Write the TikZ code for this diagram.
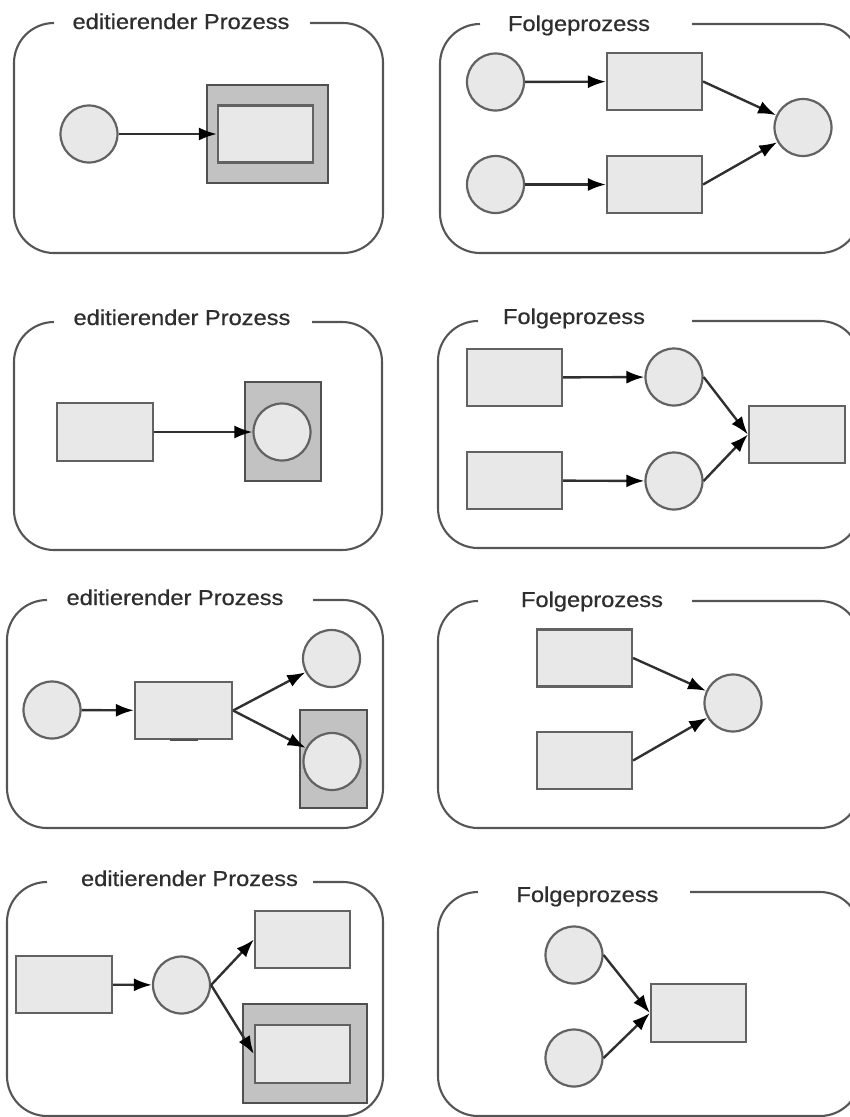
\documentclass[tikz,border=0pt]{standalone}
\usepackage{fontspec}
\setmainfont{Liberation Sans}
\newfontfamily\titlefont[FakeStretch=1.1,FakeBold=0.6]{Liberation Sans}
\usetikzlibrary{arrows.meta}
\definecolor{framecol}{HTML}{555555}
\definecolor{titlecol}{HTML}{2E2E2E}
\definecolor{shapecol}{HTML}{626262}
\definecolor{shapefill}{HTML}{E8E8E8}
\definecolor{hlborder}{HTML}{505050}
\definecolor{hlfill}{HTML}{C2C2C2}
\definecolor{arrowcol}{HTML}{303030}
\begin{document}
\begin{tikzpicture}[x=1pt,y=-1pt,
  frame/.style={draw=framecol, line width=2.1pt, rounded corners=40pt},
  title/.style={anchor=base, font=\titlefont\fontsize{21.5}{26}\selectfont, text=titlecol, inner sep=0pt},
  place/.style={circle, draw=shapecol, fill=shapefill, line width=2.2pt, minimum size=57pt, inner sep=0pt},
  trans/.style={rectangle, draw=shapecol, fill=shapefill, line width=2.2pt, minimum width=95pt, minimum height=57pt, inner sep=0pt},
  hl/.style={rectangle, draw=hlborder, fill=hlfill, line width=2.2pt, inner sep=0pt},
  arr/.style={draw=arrowcol, line width=2.4pt, -{Latex[length=18pt,width=13pt,color=black]}}
]
\useasboundingbox (0,0) rectangle (850,1117);

% ---------- Panel 1 ----------
\draw[frame] (310,23) -- (383,23) -- (383,253) -- (14,253) -- (14,23) -- (54,23);
\node[title] (t1) at (181,29) {editierender Prozess};
\node[place] (p1a) at (89,134) {};
\node[hl, minimum width=121pt, minimum height=98pt] (p1h) at (267.5,134) {};
\node[trans] (p1b) at (265.5,134) {};
\draw[arr] (p1a) -- (p1b);

% ---------- Panel 2 ----------
\draw[frame] (692,24) -- (860,24) -- (860,253) -- (440,253) -- (440,24) -- (480,24);
\node[title] (t2) at (579,31) {Folgeprozess};
\node[place] (p2a) at (495.5,82) {};
\node[place] (p2b) at (495.5,184.5) {};
\node[trans] (p2c) at (654.5,81.5) {};
\node[trans] (p2d) at (654.5,184.5) {};
\node[place] (p2e) at (803,127.5) {};
\draw[arr] (p2a) -- (p2c);
\draw[arr] (p2b) -- (p2d);
\draw[arr] (p2c.east) -- (p2e);
\draw[arr] (p2d.east) -- (p2e);

% ---------- Panel 3 ----------
\draw[frame] (312,322) -- (382,322) -- (382,550) -- (14,550) -- (14,322) -- (54,322);
\node[title] (t3) at (182,325) {editierender Prozess};
\node[trans, minimum width=96pt, minimum height=58pt] (p3a) at (105,432) {};
\node[hl, minimum width=76pt, minimum height=99pt] (p3h) at (283,431.5) {};
\node[place] (p3b) at (282,432) {};
\draw[arr] (p3a) -- (p3b);

% ---------- Panel 4 ----------
\draw[frame] (692,321) -- (860,321) -- (860,548) -- (438,548) -- (438,321) -- (478,321);
\node[title] (t4) at (574,324) {Folgeprozess};
\node[trans] (p4a) at (514.5,377.5) {};
\node[trans] (p4b) at (514.5,480.5) {};
\node[place] (p4c) at (674,377) {};
\node[place] (p4d) at (674,481) {};
\node[trans, minimum width=96pt] (p4e) at (797,434.5) {};
\draw[arr] (p4a) -- (p4c);
\draw[arr] (p4b) -- (p4d);
\draw[arr] (p4c.east) -- (p4e.west);
\draw[arr] (p4d.east) -- (p4e.west);

% ---------- Panel 5 ----------
\draw[frame] (313,600) -- (383,600) -- (383,828) -- (7,828) -- (7,600) -- (47,600);
\node[title] (t5) at (175,605) {editierender Prozess};
\node[place] (p5a) at (52,710) {};
\node[trans, minimum width=97pt] (p5b) at (183.5,710.5) {};
\draw[hlborder, line width=2.5pt] ([xshift=-14pt]p5b.south) -- ([xshift=14pt]p5b.south);
\node[place] (p5c) at (331.5,658.5) {};
\node[hl, minimum width=67pt, minimum height=98pt] (p5h) at (333.5,759) {};
\node[place] (p5d) at (332,761.5) {};
\draw[arr] (p5a) -- (p5b);
\draw[arr] (p5b.east) -- (p5c);
\draw[arr] (p5b.east) -- (p5d);

% ---------- Panel 6 ----------
\draw[frame] (692,601) -- (860,601) -- (860,828) -- (438,828) -- (438,601) -- (478,601);
\node[title] (t6) at (592,607) {Folgeprozess};
\node[trans] (p6a) at (584.5,658) {};
\node[trans] (p6b) at (584.5,760.5) {};
\node[place] (p6c) at (733,703) {};
\draw[arr] (p6a.east) -- (p6c);
\draw[arr] (p6b.east) -- (p6c);

% ---------- Panel 7 ----------
\draw[frame] (313,882) -- (383,882) -- (383,1116) -- (7,1116) -- (7,882) -- (47,882);
\node[title] (t7) at (189.5,886) {editierender Prozess};
\node[trans, minimum width=96pt] (p7a) at (64,984.5) {};
\node[place] (p7b) at (181.5,985) {};
\node[trans] (p7c) at (302.5,939.5) {};
\node[hl, minimum width=124pt, minimum height=99pt] (p7h) at (305,1053.5) {};
\node[trans, minimum height=58pt] (p7d) at (302.5,1054) {};
\draw[arr] (p7a) -- (p7b);
\draw[arr] (p7b.east) -- (p7c.west);
\draw[arr] (p7b.east) -- (p7d.west);

% ---------- Panel 8 ----------
\draw[frame] (690,892) -- (860,892) -- (860,1116) -- (438,1116) -- (438,892) -- (478,892);
\node[title] (t8) at (587.5,902) {Folgeprozess};
\node[place] (p8a) at (574,955) {};
\node[place] (p8b) at (574,1058) {};
\node[trans, minimum height=58pt] (p8c) at (698.5,1013) {};
\draw[arr] (p8a.east) -- (p8c.west);
\draw[arr] (p8b.east) -- (p8c.west);
\end{tikzpicture}
\end{document}
